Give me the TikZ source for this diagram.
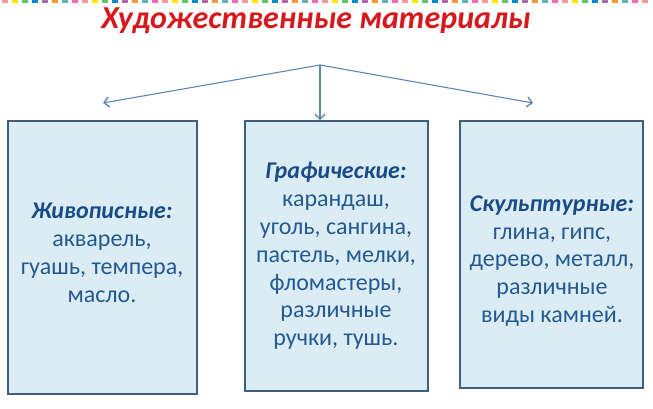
\documentclass[tikz,border=0pt]{standalone}
\usepackage{fontspec}
\setmainfont{Carlito}
\usetikzlibrary{arrows.meta}
\definecolor{titlered}{RGB}{215,25,30}
\definecolor{txtblue}{RGB}{35,90,145}
\definecolor{headblue}{RGB}{25,75,135}
\definecolor{boxfill}{RGB}{219,236,245}
\definecolor{boxline}{RGB}{65,95,125}
\definecolor{arrowc}{RGB}{95,135,180}
\tikzset{
  cattext/.style={align=center, text=txtblue, font=\fontsize{24}{27.8}\selectfont},
  catbox/.style={draw=boxline, line width=1.6pt, fill=boxfill},
  conn/.style={draw=arrowc, line width=1.1pt, -{Straight Barb[length=5pt,width=10pt,line width=1.4pt]}},
}
\newcommand{\hd}[1]{{\bfseries\itshape\color{headblue}#1}}
\begin{document}
\begin{tikzpicture}[x=1pt,y=-1pt]
\useasboundingbox (0,0) rectangle (653,408);
\fill[white] (0,0) rectangle (653,408);
% decorative top stripe
\foreach \i [evaluate=\i as \x using 2+10*\i] in {0,...,64}{
  \pgfmathtruncatemacro{\c}{mod(\i,8)}
  \ifcase\c \def\cc{pink!80!red}\or\def\cc{yellow!90!orange}\or\def\cc{green!60!black!60}\or\def\cc{cyan!70!blue}\or\def\cc{violet!60}\or\def\cc{orange!80}\or\def\cc{teal!60}\or\def\cc{magenta!60}\fi
  \fill[\cc] (\x,0) rectangle ++(6,3);
}
\node[text=titlered, font=\fontsize{32}{36}\selectfont\bfseries\itshape] (title) at (316,21) {Художественные материалы};
% boxes
\draw[catbox] (8,121) rectangle (197,394);
\draw[catbox] (245,121) rectangle (428,391);
\draw[catbox] (460,121) rectangle (643,388);
\node[cattext] (zh) at (102,253) {\hd{Живописные:}\\акварель,\\гуашь, темпера,\\масло.};
\node[cattext] (gr) at (336,256) {\hd{Графические:}\\карандаш,\\уголь, сангина,\\пастель, мелки,\\фломастеры,\\различные\\ручки, тушь.};
\node[cattext] (sk) at (552,261) {\hd{Скульптурные:}\\глина, гипс,\\дерево, металл,\\различные\\виды камней.};
% connectors
\coordinate (apex) at (320,65);
\coordinate (tl) at (103,103);
\coordinate (tm) at (320,120);
\coordinate (tr) at (533,103);
\draw[conn] (apex) -- (tl);
\draw[conn] (apex) -- (tm);
\draw[conn] (apex) -- (tr);
\end{tikzpicture}
\end{document}
